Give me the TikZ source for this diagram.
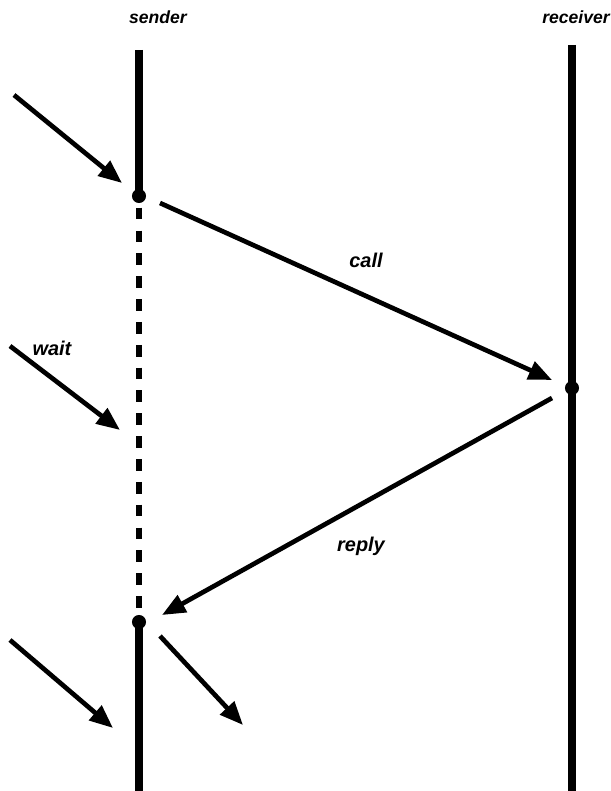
\documentclass[tikz,border=0pt]{standalone}
\usepackage{fontspec}
\setmainfont{Liberation Sans}
\usetikzlibrary{arrows.meta}

\tikzset{
  lifeline/.style={line width=6pt},
  waitline/.style={line width=5.5pt,dash pattern=on 10pt off 9.5pt},
  msg/.style={line width=4pt,-{Triangle[length=20pt,width=16pt]}},
  joint/.style={circle,fill=black,inner sep=0pt,minimum size=12pt},
  lbl/.style={font=\bfseries\itshape\fontsize{15}{17}\selectfont},
  msglbl/.style={font=\bfseries\itshape\fontsize{17}{19}\selectfont}
}

\begin{document}
\begin{tikzpicture}[x=0.03cm,y=-0.03cm]
\useasboundingbox (0,0) rectangle (610,791);
% heads
\node[lbl] (sname) at (158,17) {sender};
\node[lbl] (rname) at (576,17) {receiver};
% lifelines
\coordinate (stop) at (139,50);
\coordinate (sbot) at (139,791);
\coordinate (rtop) at (572,45);
\coordinate (rbot) at (572,791);
\node[joint] (scall) at (139,196) {};
\node[joint] (sback) at (139,622) {};
\node[joint] (rgot) at (572,388) {};
\draw[lifeline] (stop) -- (scall.center);
\draw[waitline] ([yshift=-10pt]scall.center) -- (sback.center);
\draw[lifeline] (sback.center) -- (sbot);
\draw[lifeline] (rtop) -- (rbot);
% messages
\coordinate (in1a) at (14,95);   \coordinate (in1b) at (122,183);
\coordinate (in2a) at (10,346);  \coordinate (in2b) at (120,430);
\coordinate (in3a) at (10,640);  \coordinate (in3b) at (113,728);
\coordinate (outa) at (160,636); \coordinate (outb) at (243,725);
\coordinate (calla) at (160,203); \coordinate (callb) at (552,380);
\coordinate (repa) at (552,398);  \coordinate (repb) at (162,615);
\draw[msg] (in1a) -- (in1b);
\draw[msg] (in2a) -- (in2b);
\draw[msg] (in3a) -- (in3b);
\draw[msg] (outa) -- (outb);
\draw[msg] (calla) -- (callb);
\draw[msg] (repa) -- (repb);
% labels
\node[msglbl] (callname) at (366,260) {call};
\node[msglbl] (waitname) at (52,348) {wait};
\node[msglbl] (repname) at (361,546) {reply};
\end{tikzpicture}
\end{document}
